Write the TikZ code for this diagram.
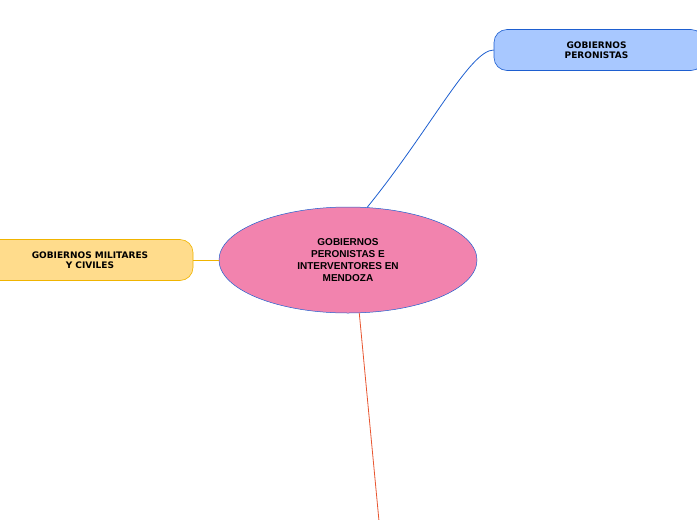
\documentclass[tikz,border=0pt]{standalone}
\usepackage{fontspec}
\setmainfont{Liberation Sans}
\newfontfamily\dvs{DejaVu Sans}
\usetikzlibrary{shapes.geometric}
\definecolor{pinkf}{HTML}{F283AE}
\definecolor{bluel}{HTML}{1E5FD0}
\definecolor{bluef}{HTML}{A8C8FF}
\definecolor{yelf}{HTML}{FFDC8C}
\definecolor{yell}{HTML}{F0B400}
\definecolor{redl}{HTML}{E8552F}
\begin{document}
\begin{tikzpicture}[x=1pt,y=-1pt,
  topic/.style={rounded corners=13pt,minimum height=41pt,text width=190pt,align=center,font=\dvs\bfseries\fontsize{9}{10}\selectfont,line width=0.6pt}]
\useasboundingbox (0,0) rectangle (697,520);
\clip (0,0) rectangle (697,520);
\node[ellipse,draw=bluel,fill=pinkf,minimum width=258pt,minimum height=106pt,align=center,font=\bfseries\fontsize{10}{12}\selectfont,line width=0.5pt] (c) at (348,260) {GOBIERNOS\\PERONISTAS E\\INTERVENTORES EN\\MENDOZA};
\node[topic,draw=bluel,fill=bluef,minimum width=210pt,text width=200pt] (r) at (599,50) {\hspace*{-5pt}GOBIERNOS\\\hspace*{-5pt}PERONISTAS};
\node[topic,draw=yell,fill=yelf,minimum width=206pt,text width=196pt] (l) at (90,260) {GOBIERNOS MILITARES\\Y CIVILES};
\coordinate (b) at (379,521);
\draw[bluel,line width=0.8pt] (c.70) .. controls (430,130) and (470,50) .. (r.west);
\draw[yell,line width=0.8pt] (l.east) -- (c.west);
\draw[redl,line width=0.8pt] (c.-78) -- (b);
\end{tikzpicture}
\end{document}
